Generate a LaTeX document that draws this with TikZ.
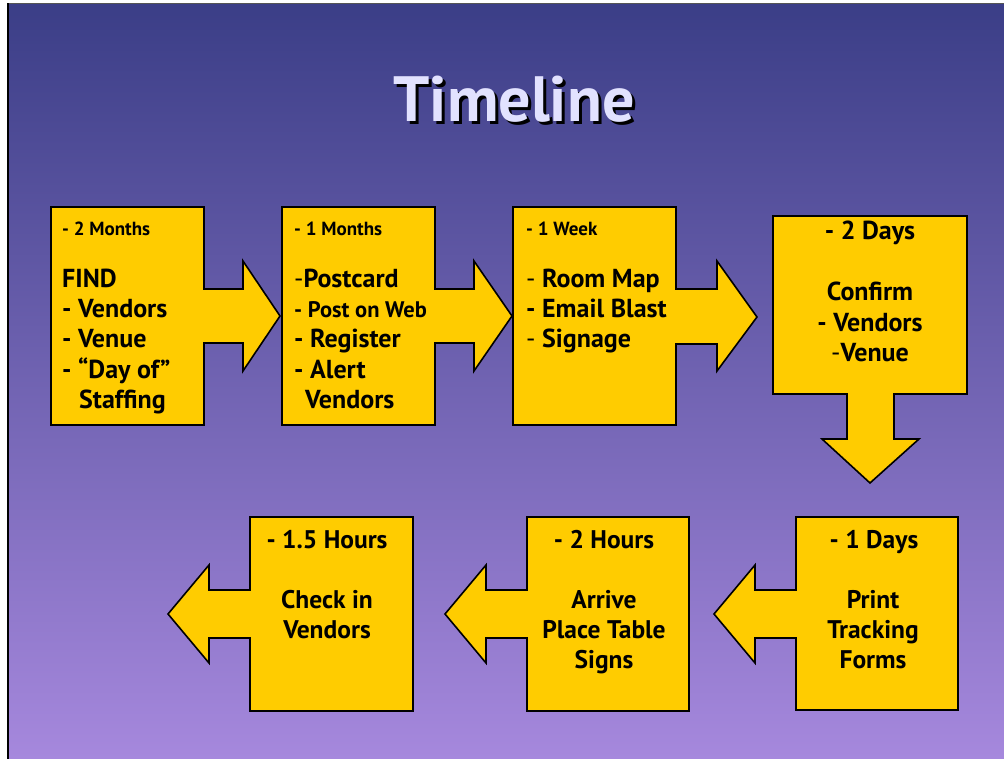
\documentclass[tikz,border=0pt]{standalone}
\usepackage{fontspec}
\setmainfont{PT Sans}
\definecolor{bgtop}{HTML}{3B3E87}
\definecolor{bgbot}{HTML}{A688DD}
\definecolor{boxy}{HTML}{FFCC00}
\definecolor{titlec}{HTML}{E2E2FF}
\definecolor{frameg}{HTML}{555555}
\begin{document}
\begin{tikzpicture}[x=1pt,y=-1pt,
  shp/.style={fill=boxy,draw=black,line width=1.6pt,line join=miter},
  txt/.style={inner sep=0pt,text=black,font=\bfseries\fontsize{26}{30}\selectfont},
  sm/.style={txt,font=\bfseries\fontsize{19}{22}\selectfont},
  md/.style={txt,font=\bfseries\fontsize{22.5}{26}\selectfont},
  bt/.style={txt,font=\bfseries\fontsize{25.5}{29}\selectfont},
  L/.style={anchor=base west},
  C/.style={anchor=base}]
\useasboundingbox (0,0) rectangle (1004,759);
\fill[white] (0,0) rectangle (1004,759);
\shade[top color=bgtop,bottom color=bgbot] (9,4.5) rectangle (1004,759);
\draw[frameg,line width=1.5pt] (8,3.5) -- (1004,3.5);
\draw[black,line width=2pt] (8,3.5) -- (8,759);

% title with drop shadow
\node[anchor=base,inner sep=0pt,text=titlec,font=\bfseries\fontsize{64}{70}\selectfont] (title) at (514,122)
  {\rlap{\hspace{3pt}\raisebox{-3pt}{\color{black}Timeline}}Timeline};

% shapes
\draw[shp] (51,207) -- (204,207) -- (204,289) -- (243,289) -- (243,261) -- (280,316) -- (243,371) -- (243,343) -- (204,343) -- (204,425) -- (51,425) -- cycle;
\draw[shp] (282,207) -- (435,207) -- (435,289) -- (474,289) -- (474,261) -- (512,316) -- (474,371) -- (474,343) -- (435,343) -- (435,425) -- (282,425) -- cycle;
\draw[shp] (513,207) -- (676,207) -- (676,289) -- (717,289) -- (717,261) -- (757,317) -- (717,371) -- (717,344) -- (676,344) -- (676,425) -- (513,425) -- cycle;
\draw[shp] (773,216) -- (967,216) -- (967,394) -- (894,394) -- (894,439) -- (919,439) -- (870,483) -- (822,439) -- (847,439) -- (847,394) -- (773,394) -- cycle;
\draw[shp] (796,517) -- (958,517) -- (958,710) -- (796,710) -- (796,638) -- (755,638) -- (755,663) -- (714,614) -- (755,565) -- (755,590) -- (796,590) -- cycle;
\draw[shp] (527,517) -- (689,517) -- (689,711) -- (527,711) -- (527,638) -- (486,638) -- (486,663) -- (445,614) -- (486,565) -- (486,590) -- (527,590) -- cycle;
\draw[shp] (250,517) -- (413,517) -- (413,711) -- (250,711) -- (250,638) -- (209,638) -- (209,663) -- (168,614) -- (209,565) -- (209,590) -- (250,590) -- cycle;

% box 1
\node[sm,L] (a0) at (62,236) {- 2 Months};
\node[txt,L] (a1) at (62,288) {FIND};
\node[txt,L] (a2) at (62,318) {- Vendors};
\node[txt,L] (a3) at (62,348) {- Venue};
\node[txt,L] (a4) at (62,378) {- “Day of”};
\node[txt,L] (a5) at (79,408) {Staffing};
% box 2
\node[sm,L] (b0) at (294,236) {- 1 Months};
\node[txt,L] (b1) at (294,288) {\textmd{-}Postcard};
\node[md,L] (b2) at (294,318) {- Post on Web};
\node[txt,L] (b3) at (294,348) {- Register};
\node[txt,L] (b4) at (294,378) {- Alert};
\node[txt,L] (b5) at (305,408) {Vendors};
% box 3
\node[sm,L] (c0) at (526,236) {- 1 Week};
\node[txt,L] (c1) at (526,288) {\textmd{-} Room Map};
\node[txt,L] (c2) at (526,318) {- Email Blast};
\node[txt,L] (c3) at (526,348) {\textmd{-} Signage};
% box 4
\node[txt,C] (d0) at (870,240) {- 2 Days};
\node[txt,C] (d1) at (870,301) {Confirm};
\node[txt,C] (d2) at (870,331) {- Vendors};
\node[txt,C] (d3) at (870,361) {\textmd{-}Venue};
% bottom boxes
\node[bt,C] (e0) at (874,548) {- 1 Days};
\node[bt,C] (e1) at (873,608) {Print};
\node[bt,C] (e2) at (873,638) {Tracking};
\node[bt,C] (e3) at (873,668) {Forms};
\node[bt,C] (f0) at (604,548) {- 2 Hours};
\node[bt,C] (f1) at (604,608) {Arrive};
\node[bt,C] (f2) at (604,638) {Place Table};
\node[bt,C] (f3) at (604,668) {Signs};
\node[bt,C] (g0) at (327,548) {- 1.5 Hours};
\node[bt,C] (g1) at (327,608) {Check in};
\node[bt,C] (g2) at (327,638) {Vendors};
\end{tikzpicture}
\end{document}
